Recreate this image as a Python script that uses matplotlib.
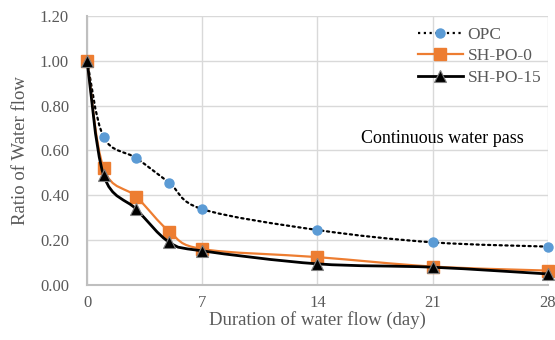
import numpy as np
import matplotlib.pyplot as plt
from matplotlib.path import Path
from matplotlib.patches import PathPatch
from matplotlib.lines import Line2D

days = [0, 1, 3, 5, 7, 14, 21, 28]
opc = [1.00, 0.66, 0.565, 0.455, 0.338, 0.245, 0.19, 0.171]
sh_po_0 = [1.00, 0.52, 0.393, 0.238, 0.16, 0.124, 0.082, 0.064]
sh_po_15 = [1.00, 0.49, 0.337, 0.19, 0.152, 0.094, 0.079, 0.049]

xticks = [0, 7, 14, 21, 28]
yticks = [0.0, 0.2, 0.4, 0.6, 0.8, 1.0, 1.2]

grey = '#595959'
plt.rcParams['font.family'] = ['Liberation Serif', 'DejaVu Serif']


def smooth_path(x, y):
    # Excel-like smoothed line: cubic Bezier through the points
    p = np.column_stack([x, y]).astype(float)
    n = len(p)
    verts = [p[0]]
    codes = [Path.MOVETO]
    for i in range(n - 1):
        prev = p[i - 1] if i > 0 else p[i]
        nxt = p[i + 2] if i + 2 < n else p[i + 1]
        c1 = p[i] + (p[i + 1] - prev) / 6.0
        c2 = p[i + 1] - (nxt - p[i]) / 6.0
        verts += [c1, c2, p[i + 1]]
        codes += [Path.CURVE4] * 3
    return Path(verts, codes)


fig = plt.figure(figsize=(5.55, 3.4), dpi=100)
ax = fig.add_axes([0.157, 0.162, 0.830, 0.791])

series = [
    (opc, 'OPC', dict(color='black', lw=1.6, ls=(0, (1, 1.6))),
     dict(marker='o', ms=6.5, mfc='#5B9BD5', mec='#5B9BD5')),
    (sh_po_0, 'SH-PO-0', dict(color='#ED7D31', lw=1.6, ls='-'),
     dict(marker='s', ms=8.5, mfc='#ED7D31', mec='#ED7D31')),
    (sh_po_15, 'SH-PO-15', dict(color='black', lw=2.0, ls='-'),
     dict(marker='^', ms=8.5, mfc='black', mec='#808080', mew=0.8)),
]

handles = []
for k, (vals, name, lstyle, mstyle) in enumerate(series):
    patch = PathPatch(smooth_path(days, vals), fill=False, ec=lstyle['color'],
                      lw=lstyle['lw'], ls=lstyle['ls'], zorder=3 + 2 * k,
                      clip_on=False, capstyle='round')
    ax.add_patch(patch)
    ax.plot(days, vals, ls='none', zorder=4 + 2 * k, clip_on=False, **mstyle)
    handles.append(Line2D([], [], color=lstyle['color'], lw=lstyle['lw'],
                          ls=lstyle['ls'], **mstyle))

ax.set_xlim(0, 28)
ax.set_ylim(0, 1.2)
ax.set_xticks(xticks)
ax.set_yticks(yticks)
ax.set_yticklabels(['%.2f' % v for v in yticks])
ax.grid(True, color='#D9D9D9', lw=1.0)
ax.set_axisbelow(True)
for s in ['top', 'right']:
    ax.spines[s].set_visible(False)
for s in ['left', 'bottom']:
    ax.spines[s].set_color('#BFBFBF')
    ax.spines[s].set_linewidth(1.5)
ax.tick_params(length=0, labelsize=12, labelcolor=grey)
ax.tick_params(axis='y', pad=13)
ax.tick_params(axis='x', pad=7)

ax.set_xlabel('Duration of water flow (day)', fontsize=13.5, color=grey, labelpad=0)
ax.set_ylabel('Ratio of Water flow', fontsize=13.5, color=grey, labelpad=8)

leg = ax.legend(handles=handles, labels=[s[1] for s in series],
                loc='upper left', bbox_to_anchor=(0.703, 0.985), frameon=False,
                fontsize=12.5, handlelength=2.6, handletextpad=0.25,
                labelspacing=0.3, borderaxespad=0)
for t in leg.get_texts():
    t.set_color(grey)

ax.text(0.594, 0.543, 'Continuous water pass', transform=ax.transAxes,
        fontsize=13, color='black', va='center', ha='left')

fig.savefig('out.png', dpi=100)
